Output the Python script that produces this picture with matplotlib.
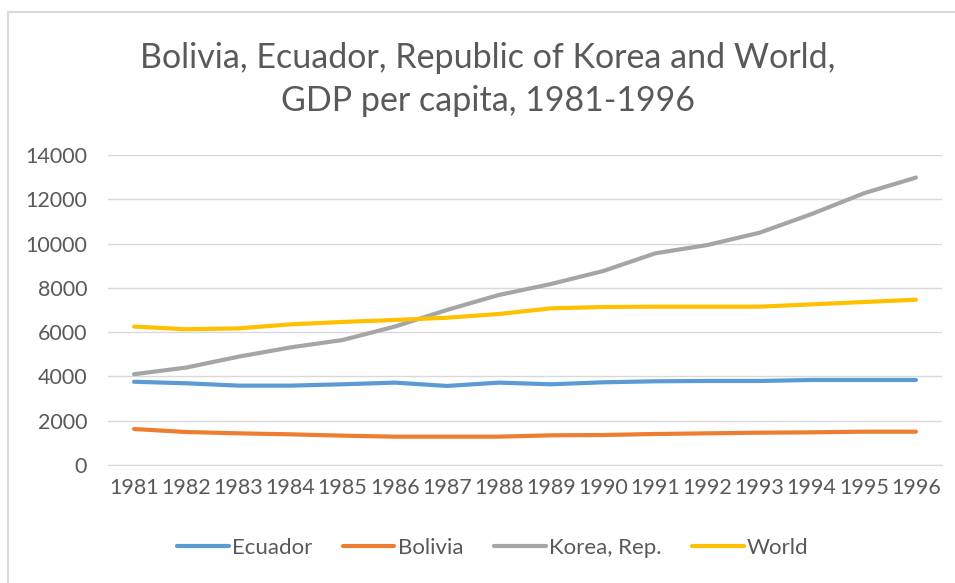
import matplotlib.pyplot as plt
from matplotlib.patches import Rectangle

years = [str(y) for y in range(1981, 1997)]
ecuador = [3760, 3690, 3585, 3585, 3645, 3720, 3570, 3720, 3645, 3735, 3780, 3795, 3795, 3840, 3840, 3840]
bolivia = [1625, 1490, 1430, 1385, 1325, 1280, 1280, 1280, 1340, 1355, 1400, 1430, 1460, 1475, 1505, 1505]
korea = [4100, 4400, 4890, 5310, 5645, 6250, 7000, 7680, 8175, 8760, 9560, 9935, 10490, 11335, 12270, 12980]
world = [6250, 6130, 6170, 6350, 6460, 6550, 6650, 6820, 7075, 7135, 7150, 7150, 7150, 7255, 7360, 7465]

series = [
    ("Ecuador", ecuador, "#5B9BD5"),
    ("Bolivia", bolivia, "#ED7D31"),
    ("Korea, Rep.", korea, "#A5A5A5"),
    ("World", world, "#FFC000"),
]

plt.rcParams["font.family"] = ["Lato", "DejaVu Sans"]
text_color = "#595959"

fig = plt.figure(figsize=(9.55, 5.83), dpi=100)
W, H = 955, 583
ax = fig.add_axes([108 / W, 1 - 465 / H, (942 - 108) / W, (465 - 155) / H])

x = range(len(years))
for name, values, color in series:
    ax.plot(x, values, color=color, lw=3, label=name, solid_capstyle="round")

ax.set_xlim(-0.5, len(years) - 0.5)
ax.set_ylim(0, 14000)
ax.set_yticks(range(0, 14001, 2000))
ax.set_xticks(list(x))
ax.set_xticklabels(years)
ax.grid(axis="y", color="#D9D9D9", lw=1)
ax.set_axisbelow(True)
for side in ["top", "right", "left"]:
    ax.spines[side].set_visible(False)
ax.spines["bottom"].set_color("#D9D9D9")
ax.tick_params(length=0, colors=text_color, labelsize=15.5)
ax.tick_params(axis="y", pad=15)
ax.tick_params(axis="x", pad=9)

fig.text(488 / W, 1 - 58 / H, "Bolivia, Ecuador, Republic of Korea and World,",
         ha="center", va="center", fontsize=24.5, color=text_color)
fig.text(488 / W, 1 - 101 / H, "GDP per capita, 1981-1996",
         ha="center", va="center", fontsize=24.5, color=text_color)

leg = fig.legend(loc="center", bbox_to_anchor=(493 / W, 1 - 548 / H), ncol=4,
                 frameon=False, fontsize=16, labelcolor=text_color,
                 handlelength=2.3, handletextpad=0.15, columnspacing=1.4)

fig.patches.append(Rectangle((8 / W, -0.1), 1.1, 1 - 12 / H + 0.1,
                             transform=fig.transFigure, fill=False,
                             edgecolor="#D9D9D9", lw=1.5))

fig.savefig("out.png", dpi=100)
